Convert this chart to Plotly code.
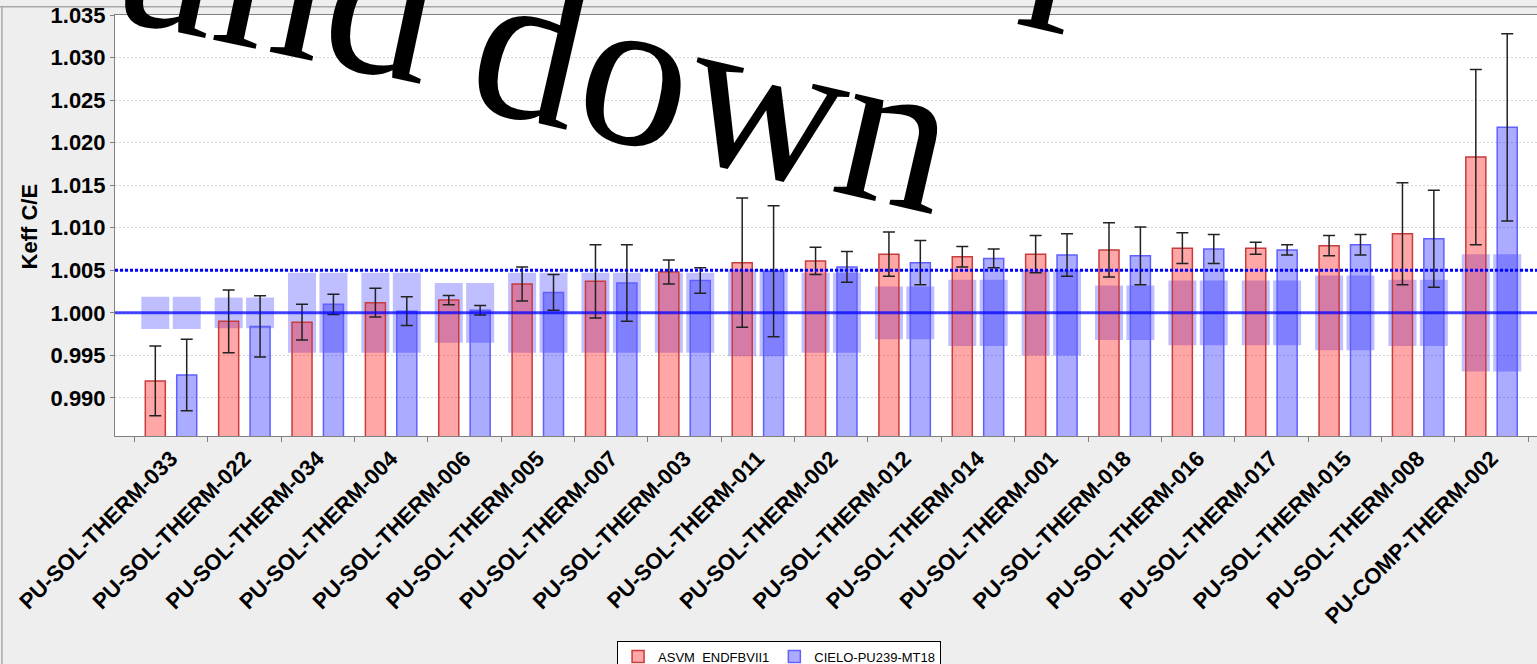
import plotly.graph_objects as go

categories = ["PU-SOL-THERM-033", "PU-SOL-THERM-022", "PU-SOL-THERM-034", "PU-SOL-THERM-004",
              "PU-SOL-THERM-006", "PU-SOL-THERM-005", "PU-SOL-THERM-007", "PU-SOL-THERM-003",
              "PU-SOL-THERM-011", "PU-SOL-THERM-002", "PU-SOL-THERM-012", "PU-SOL-THERM-014",
              "PU-SOL-THERM-001", "PU-SOL-THERM-018", "PU-SOL-THERM-016", "PU-SOL-THERM-017",
              "PU-SOL-THERM-015", "PU-SOL-THERM-008", "PU-COMP-THERM-002"]

asvm = [0.9920, 0.9990, 0.9989, 1.0012, 1.0015, 1.0034, 1.0037, 1.0048, 1.0059, 1.0061,
        1.0069, 1.0066, 1.0069, 1.0074, 1.0076, 1.0076, 1.0079, 1.0093, 1.0183]
asvm_err = [0.0041, 0.0037, 0.0021, 0.0017, 0.00055, 0.0020, 0.0043, 0.0014, 0.0076, 0.0016,
            0.0026, 0.0012, 0.0022, 0.0032, 0.0018, 0.0007, 0.0012, 0.0060, 0.0103]

cielo = [0.9927, 0.9984, 1.0010, 1.0002, 1.0003, 1.0024, 1.0035, 1.0038, 1.0049, 1.0054,
         1.0059, 1.0064, 1.0068, 1.0067, 1.0075, 1.0074, 1.0080, 1.0087, 1.0218]
cielo_err = [0.0042, 0.0036, 0.0012, 0.0017, 0.00055, 0.0021, 0.0045, 0.0015, 0.0077, 0.0018,
             0.0026, 0.0011, 0.0025, 0.0034, 0.0017, 0.0006, 0.0012, 0.0057, 0.0110]

exp_unc = [0.0019, 0.0018, 0.0047, 0.0047, 0.0035, 0.0047, 0.0047, 0.0047, 0.0051, 0.0047,
           0.0031, 0.0039, 0.0050, 0.0032, 0.0038, 0.0038, 0.0044, 0.0039, 0.0069]

series_names = ["ASVM_ENDFBVII1", "CIELO-PU239-MT18"]
y_title = "Keff C/E"
ref_value = 1.000
limit_value = 1.005
y_ticks = [0.990, 0.995, 1.000, 1.005, 1.010, 1.015, 1.020, 1.025, 1.030, 1.035]

FONT = "Liberation Sans, Arial, sans-serif"
SERIF = "Liberation Serif"

BAR_W = 0.273
BOX_W = 0.382
HALF = 0.214

fig = go.Figure()

# experimental uncertainty boxes (drawn first, beneath the bars)
box_base = [ref_value - u for u in exp_unc]
box_h = [2 * u for u in exp_unc]
for sign in (-1, 1):
    fig.add_trace(go.Bar(
        x=categories, y=box_h, base=box_base,
        width=BOX_W, offset=sign * HALF - BOX_W / 2,
        marker=dict(color="rgba(0,0,255,0.25)", line=dict(width=0)),
        showlegend=False, hoverinfo="skip"))

fig.add_trace(go.Bar(
    x=categories, y=asvm, name=series_names[0],
    width=BAR_W, offset=-HALF - BAR_W / 2,
    marker=dict(color="rgba(255,0,0,0.35)", line=dict(color="rgb(200,60,60)", width=1.5)),
    error_y=dict(type="data", array=asvm_err, color="#222222", thickness=1.5, width=6)))

fig.add_trace(go.Bar(
    x=categories, y=cielo, name=series_names[1],
    width=BAR_W, offset=HALF - BAR_W / 2,
    marker=dict(color="rgba(0,0,255,0.33)", line=dict(color="rgb(96,96,255)", width=1.5)),
    error_y=dict(type="data", array=cielo_err, color="#222222", thickness=1.5, width=6)))

shapes = [
    dict(type="line", xref="paper", yref="y", x0=0, x1=1, y0=ref_value, y1=ref_value,
         line=dict(color="rgba(0,0,255,0.72)", width=3), layer="above"),
    dict(type="line", xref="paper", yref="y", x0=0, x1=1, y0=limit_value, y1=limit_value,
         line=dict(color="#0000FF", width=3, dash="3px,2px"), layer="above"),
    # window frame lines
    dict(type="line", xref="paper", yref="paper", x0=-0.081, x1=1.0, y0=1.0195, y1=1.0195,
         line=dict(color="#A8A8A8", width=1.5), layer="below"),
    dict(type="line", xref="paper", yref="paper", x0=-0.0795, x1=-0.0795, y0=-0.5416, y1=1.0195,
         line=dict(color="#A8A8A8", width=1.5), layer="below"),
]

annotations = [
    dict(text=y_title, xref="paper", yref="paper", x=-0.0598, y=0.4976,
         xanchor="center", yanchor="middle", showarrow=False, textangle=-90,
         font=dict(family=FONT, size=22, weight="bold", color="black")),
    dict(text="and", xref="paper", yref="paper", x=0.1181, y=1.0855,
         xanchor="center", yanchor="middle", showarrow=False, textangle=12,
         font=dict(family=SERIF, size=219, color="black")),
    dict(text="down", xref="paper", yref="paper", x=0.4219, y=0.8266,
         xanchor="center", yanchor="middle", showarrow=False, textangle=13,
         font=dict(family=SERIF, size=218, color="black")),
    dict(text="p", xref="paper", yref="paper", x=0.687, y=1.223,
         xanchor="center", yanchor="middle", showarrow=False, textangle=13,
         font=dict(family=SERIF, size=212, color="black")),
]

fig.update_layout(
    width=1537, height=664,
    margin=dict(l=115, r=0, t=15, b=228, autoexpand=False),
    paper_bgcolor="#EEEEEE", plot_bgcolor="white",
    barmode="overlay",
    font=dict(family=FONT, color="black"),
    shapes=shapes, annotations=annotations,
    legend=dict(orientation="h", x=0.467, xanchor="center", y=-0.486, yanchor="top",
                bgcolor="white", bordercolor="black", borderwidth=1,
                font=dict(family=FONT, size=13, color="black"), itemwidth=30),
    xaxis=dict(type="category", range=[-0.7635, 18.62], tickson="boundaries",
               ticks="outside", ticklen=5, tickcolor="#808080", automargin=False,
               showline=True, linecolor="#808080", linewidth=1, mirror=True,
               tickangle=-45, showgrid=False,
               tickfont=dict(family=FONT, size=22, weight="bold", color="black")),
    yaxis=dict(range=[0.98553, 1.035], tickmode="array", tickvals=y_ticks, tickformat=".3f",
               showgrid=True, gridcolor="#D4D4D4", griddash="2px,2px", automargin=False,
               ticks="outside", ticklen=4, tickcolor="#808080",
               showline=True, linecolor="#808080", linewidth=1, zeroline=False,
               tickfont=dict(family=FONT, size=22, weight="bold", color="black")),
)

# remove the default page margin and clip anything (the legend) that runs past the figure
fig.write_html("out.html",
               config={"displayModeBar": False},
               post_script="document.body.style.margin='0px';"
                           "document.body.style.overflow='hidden';"
                           "document.body.style.background='#EEEEEE';"
                           "var gd=document.getElementById('{plot_id}');"
                           "gd.style.overflow='hidden';"
                           "if(gd.parentNode){gd.parentNode.style.overflow='hidden';"
                           "gd.parentNode.style.height='664px';}")
